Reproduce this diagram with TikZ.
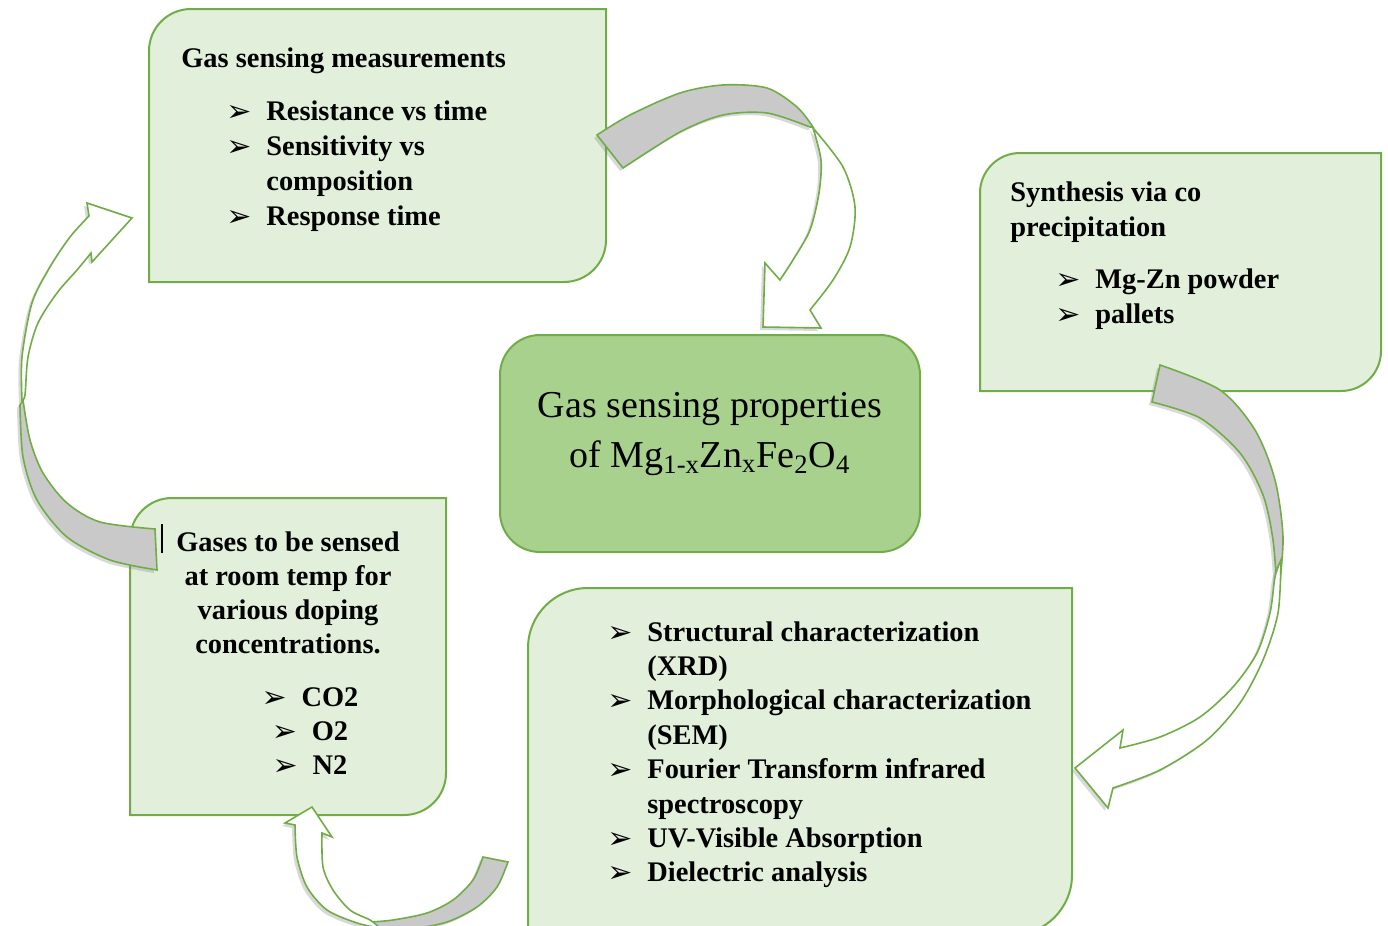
\documentclass[tikz,border=0pt]{standalone}
\usepackage{fontspec}
\setmainfont{Liberation Serif}
\newfontfamily\symf{DejaVu Sans}
\usetikzlibrary{shadows}
\definecolor{boxfill}{HTML}{E2EFDA}
\definecolor{boxline}{HTML}{70AD47}
\definecolor{midfill}{HTML}{A9D18E}
\definecolor{arrgray}{HTML}{C9C9C9}
\tikzset{
  boxshape/.style={fill=boxfill,draw=boxline,line width=1pt},
  midshape/.style={fill=midfill,draw=boxline,line width=1pt,rounded corners=20pt},
  backarr/.style={fill=arrgray,draw=boxline,line width=0.8pt,drop shadow={shadow xshift=-1.5pt,shadow yshift=-1.5pt,opacity=0.3}},
  frontarr/.style={fill=white,draw=boxline,line width=0.8pt,drop shadow={shadow xshift=-1.5pt,shadow yshift=-1.5pt,opacity=0.3}},
  txt/.style={inner sep=0pt,align=left,font=\bfseries\fontsize{14.2}{17.5}\selectfont}
}
\newcommand{\arw}{\makebox[20pt][l]{\raisebox{-0.5pt}{\symf\fontsize{15}{15}\selectfont ➢}}}
\newcommand{\diagbox}[5]{\draw[boxshape] (#1,#4) -- (#1,#2+#5) arc (180:270:#5) -- (#3,#2) -- (#3,#4-#5) arc (0:90:#5) -- cycle;}
\begin{document}
\begin{tikzpicture}[x=0.5pt,y=-0.5pt]
\useasboundingbox (0,0) rectangle (1388,926);
\clip (0,0) rectangle (1388,926);

\diagbox{149}{9}{606}{282}{42} %measurements
\diagbox{980}{153}{1381}{391}{40} %synthesis
\diagbox{130}{498}{446}{815}{42} %gases
\diagbox{528}{588}{1072}{935}{60} %characterization
\draw[midshape] (500,335) rectangle (920,552); %centre

\node[txt,anchor=north west] (measure) at (181,47) {Gas sensing measurements\\[9pt]
\hspace*{22.5pt}\arw Resistance vs time\\
\hspace*{22.5pt}\arw Sensitivity vs\\
\hspace*{42.5pt}composition\\
\hspace*{22.5pt}\arw Response time};
\node[txt,anchor=north west] (synth) at (1010,181) {Synthesis via co\\precipitation\\[8.5pt]
\hspace*{22.5pt}\arw Mg-Zn powder\\
\hspace*{22.5pt}\arw pallets};
\node[txt,align=center,anchor=north,font=\bfseries\fontsize{14.2}{17}\selectfont] (gases) at (288,531) {Gases to be sensed\\at room temp for\\various doping\\concentrations.\\[9.5pt]
\hspace*{22pt}\arw CO2\\
\hspace*{22pt}\arw O2\\
\hspace*{22pt}\arw N2};
\node[txt,anchor=north west,font=\bfseries\fontsize{14.2}{17.2}\selectfont] (charact) at (607,621) {\arw Structural characterization\\
\hspace*{20pt}(XRD)\\
\arw Morphological characterization\\
\hspace*{20pt}(SEM)\\
\arw Fourier Transform infrared\\
\hspace*{20pt}spectroscopy\\
\arw UV-Visible Absorption\\
\arw Dielectric analysis};
\node[align=center,font=\fontsize{19}{25}\selectfont] (prop) at (710,434) {Gas sensing properties\\of Mg\textsubscript{1-x}Zn\textsubscript{x}Fe\textsubscript{2}O\textsubscript{4}};
\draw[line width=0.6pt] (162,524) -- (162,553); %cursor

% measurements -> centre
\draw[backarr] (597,135) -- plot[smooth] coordinates {(597,135) (630,115) (680,93) (723,85) (767,88) (797,107) (813,127)}
  -- plot[smooth] coordinates {(810,127) (767,113) (723,115) (680,132) (623,168)} -- cycle;
\draw[frontarr] (813,128) -- plot[smooth] coordinates {(813,128) (843,167) (855,207) (850,247) (833,280) (810,310)}
  -- (821,328) -- (763,327) -- (765,263) -- plot[smooth] coordinates {(780,280) (793,260) (810,230) (819,193) (821,160) (813,128)} -- cycle;

% synthesis -> characterization
\draw[backarr] (1160,365) -- plot[smooth] coordinates {(1160,365) (1220,390) (1255,430) (1275,480) (1283,537) (1279,590)}
  -- plot[smooth] coordinates {(1277,590) (1273,540) (1263,495) (1240,453) (1200,418) (1152,402)} -- cycle;
\draw[frontarr] (1281,560) -- plot[smooth] coordinates {(1281,560) (1278,613) (1263,660) (1240,703) (1207,740) (1160,770) (1113,788)}
  -- (1108,808) -- (1075,768) -- (1123,730) -- plot[smooth] coordinates {(1120,748) (1160,737) (1200,717) (1233,687) (1257,653) (1270,613) (1275,577) (1281,560)} -- cycle;

% characterization -> gases
\draw[backarr] (508,862) -- plot[smooth] coordinates {(508,862) (497,887) (477,907) (447,922) (410,929) (372,929)}
  -- plot[smooth] coordinates {(370,922) (393,920) (427,913) (453,900) (473,880) (483,857)} -- cycle;
\draw[frontarr] (380,928) -- plot[smooth] coordinates {(380,928) (357,923) (327,910) (307,887) (297,857) (295,825)}
  -- (285,823) -- (312,807) -- (332,837) -- plot[smooth] coordinates {(322,833) (323,867) (333,890) (350,910) (370,920) (380,928)} -- cycle;

% gases -> measurements
\draw[backarr] (155,529) -- plot[smooth] coordinates {(155,529) (100,522) (67,503) (43,473) (30,440) (23,400)}
  -- plot[smooth] coordinates {(20,405) (23,457) (37,500) (67,537) (110,560) (157,570)} -- cycle;
\draw[frontarr] (22,400) -- plot[smooth] coordinates {(22,400) (22,357) (32,303) (50,267) (70,237) (89,216)}
  -- (87,203) -- (132,218) -- (92,262) -- plot[smooth] coordinates {(91,253) (77,270) (57,293) (38,323) (28,357) (25,395) (22,400)} -- cycle;
\end{tikzpicture}
\end{document}
